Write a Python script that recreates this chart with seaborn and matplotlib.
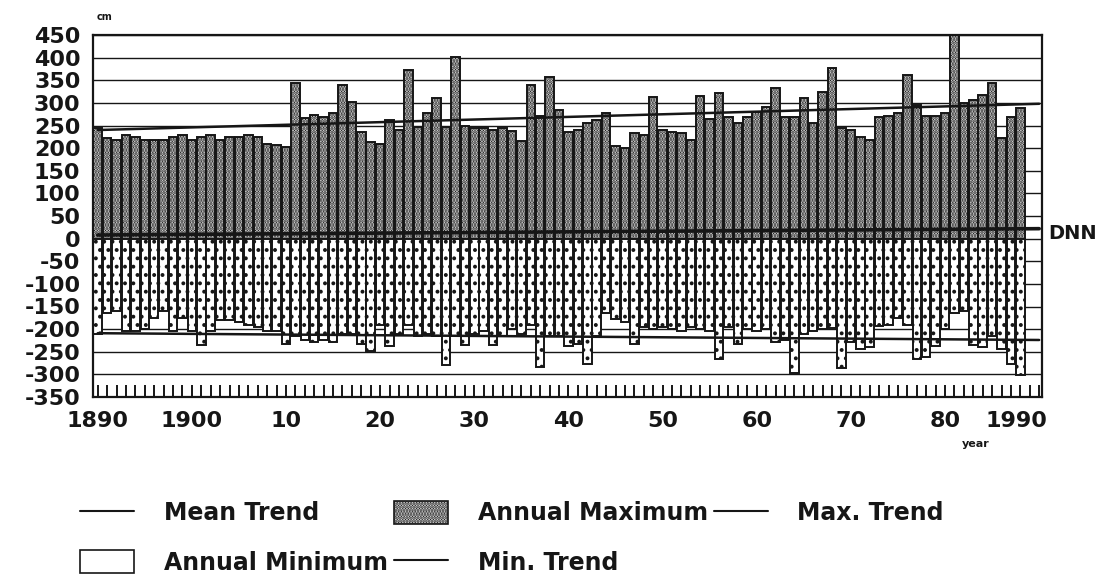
import numpy as np
import pandas as pd
import matplotlib
matplotlib.use("Agg")
import matplotlib.pyplot as plt
import matplotlib.transforms as mtransforms
from matplotlib.patches import Patch
from matplotlib.lines import Line2D
import seaborn as sns

# ---------------- data (cm relative to DNN) ----------------
years = np.arange(1890, 1989)
annual_max = [
    244, 222, 218, 229, 225, 218, 218, 218, 225, 229,   # 1890-1899
    218, 225, 229, 218, 225, 225, 229, 225, 210, 207,   # 1900-1909
    203, 343, 266, 273, 269, 278, 339, 302, 236, 214,   # 1910-1919
    210, 262, 240, 372, 247, 277, 310, 247, 401, 250,   # 1920-1929
    245, 245, 240, 245, 238, 215, 339, 270, 358, 284,   # 1930-1939
    236, 240, 256, 262, 278, 205, 200, 233, 228, 314,   # 1940-1949
    240, 235, 233, 217, 316, 265, 322, 268, 255, 268,   # 1950-1959
    280, 290, 333, 268, 268, 310, 255, 325, 376, 245,   # 1960-1969
    240, 225, 218, 269, 272, 277, 361, 295, 270, 272,   # 1970-1979
    278, 460, 300, 306, 318, 343, 222, 269, 288,        # 1980-1988
]
annual_min = [
    -210, -165, -160, -205, -205, -200, -175, -160, -205, -175,
    -205, -235, -205, -180, -180, -185, -190, -195, -205, -205,
    -232, -215, -225, -228, -225, -228, -210, -210, -232, -248,
    -190, -238, -210, -190, -215, -210, -215, -280, -215, -235,
    -210, -205, -235, -215, -200, -210, -190, -283, -215, -215,
    -238, -232, -278, -215, -165, -178, -185, -232, -195, -200,
    -195, -200, -205, -195, -200, -205, -265, -195, -232, -200,
    -205, -200, -228, -225, -298, -210, -205, -200, -198, -285,
    -228, -245, -240, -192, -190, -175, -190, -265, -262, -238,
    -200, -165, -160, -236, -240, -215, -245, -278, -302,
]
trend_years = [1890, 1990]
mean_trend = [8, 22]
max_trend = [240, 298]
min_trend = [-209, -224]

y_ticks = [-350, -300, -250, -200, -150, -100, -50, 0, 50, 100,
           150, 200, 250, 300, 350, 400, 450]
x_tick_years = [1890, 1900, 1910, 1920, 1930, 1940, 1950, 1960, 1970, 1980, 1990]
x_tick_labels = ["1890", "1900", "10", "20", "30", "40", "50", "60", "70", "80", "1990"]
minor_years = np.arange(1890, 1991)

# ---------------- style ----------------
sns.set_theme(style="white")
plt.rcParams['font.family'] = ['DejaVu Sans']
plt.rcParams['hatch.linewidth'] = 1.6
ink = '#161616'

W, H = 1105, 578
fig = plt.figure(figsize=(W / 100, H / 100), dpi=100)
fig.patch.set_facecolor('white')
ax = fig.add_axes([93 / W, 1 - 397 / H, (1042 - 93) / W, (397 - 35) / H])

df = pd.DataFrame({'year': years, 'max': annual_max, 'min': annual_min})

sns.barplot(data=df, x='year', y='max', native_scale=True, width=0.9,
            color='white', saturation=1, edgecolor=ink, linewidth=1.4,
            hatch='......', errorbar=None, ax=ax, zorder=2)
sns.barplot(data=df, x='year', y='min', native_scale=True, width=0.9,
            color='white', saturation=1, edgecolor=ink, linewidth=1.4,
            hatch='..', errorbar=None, ax=ax, zorder=2)

for tr in (max_trend, min_trend):
    sns.lineplot(x=trend_years, y=tr, color=ink, linewidth=1.8, ax=ax, zorder=3)
sns.lineplot(x=trend_years, y=mean_trend, color=ink, linewidth=2.6, ax=ax, zorder=3)

ax.set_xlim(1889.5, 1990.3)
ax.set_ylim(-350, 450)
ax.set_xlabel('')
ax.set_ylabel('')

ax.set_yticks(y_ticks)
ax.set_yticklabels([str(v) for v in y_ticks], fontsize=16, fontweight='bold', color=ink)
ax.tick_params(axis='y', length=0, pad=9)
ax.yaxis.grid(True, color=ink, linewidth=1.0)
ax.xaxis.grid(False)
ax.set_axisbelow(True)

ax.set_xticks(x_tick_years)
ax.set_xticklabels(x_tick_labels, fontsize=16, fontweight='bold', color=ink)
ax.set_xticks(minor_years, minor=True)
ax.tick_params(axis='x', which='both', direction='in', length=9, width=1.4,
               color=ink, pad=10, bottom=True)
last = ax.get_xticklabels()[-1]
last.set_ha('right')
last.set_transform(last.get_transform() + mtransforms.ScaledTranslation(8 / 100, 0, fig.dpi_scale_trans))

for s in ax.spines.values():
    s.set_visible(True)
    s.set_color(ink)
    s.set_linewidth(1.6)

# ---------------- annotations ----------------
fig.text(97 / W, 1 - 17 / H, 'cm', fontsize=7, fontweight='bold', color=ink, va='center')
fig.text(962 / W, 1 - 444 / H, 'year', fontsize=8, fontweight='bold', color=ink, va='center')
ax.text(1.007, 12, 'DNN', transform=mtransforms.blended_transform_factory(ax.transAxes, ax.transData),
        fontsize=14, fontweight='bold', color=ink, va='center', ha='left')

# ---------------- legend ----------------
handles = [
    Line2D([0], [0], color=ink, lw=1.5),
    Patch(facecolor='white', edgecolor=ink, linewidth=1.2),
    Patch(facecolor='white', edgecolor=ink, hatch='......', linewidth=1.2),
    Line2D([0], [0], color=ink, lw=1.5),
    Line2D([0], [0], color=ink, lw=1.5),
]
labels = ['Mean Trend', 'Annual Minimum', 'Annual Maximum', 'Min. Trend', 'Max. Trend']
fig.legend(handles, labels, ncol=3, loc='upper left',
           bbox_to_anchor=(80 / W, 1 - 501 / H), frameon=False,
           prop={'weight': 'bold', 'size': 17}, labelcolor=ink,
           handlelength=2.3, handleheight=1.1, handletextpad=1.25,
           columnspacing=0.25, labelspacing=1.05, borderaxespad=0,
           borderpad=0)

fig.savefig('out.png', dpi=100, facecolor='white')
